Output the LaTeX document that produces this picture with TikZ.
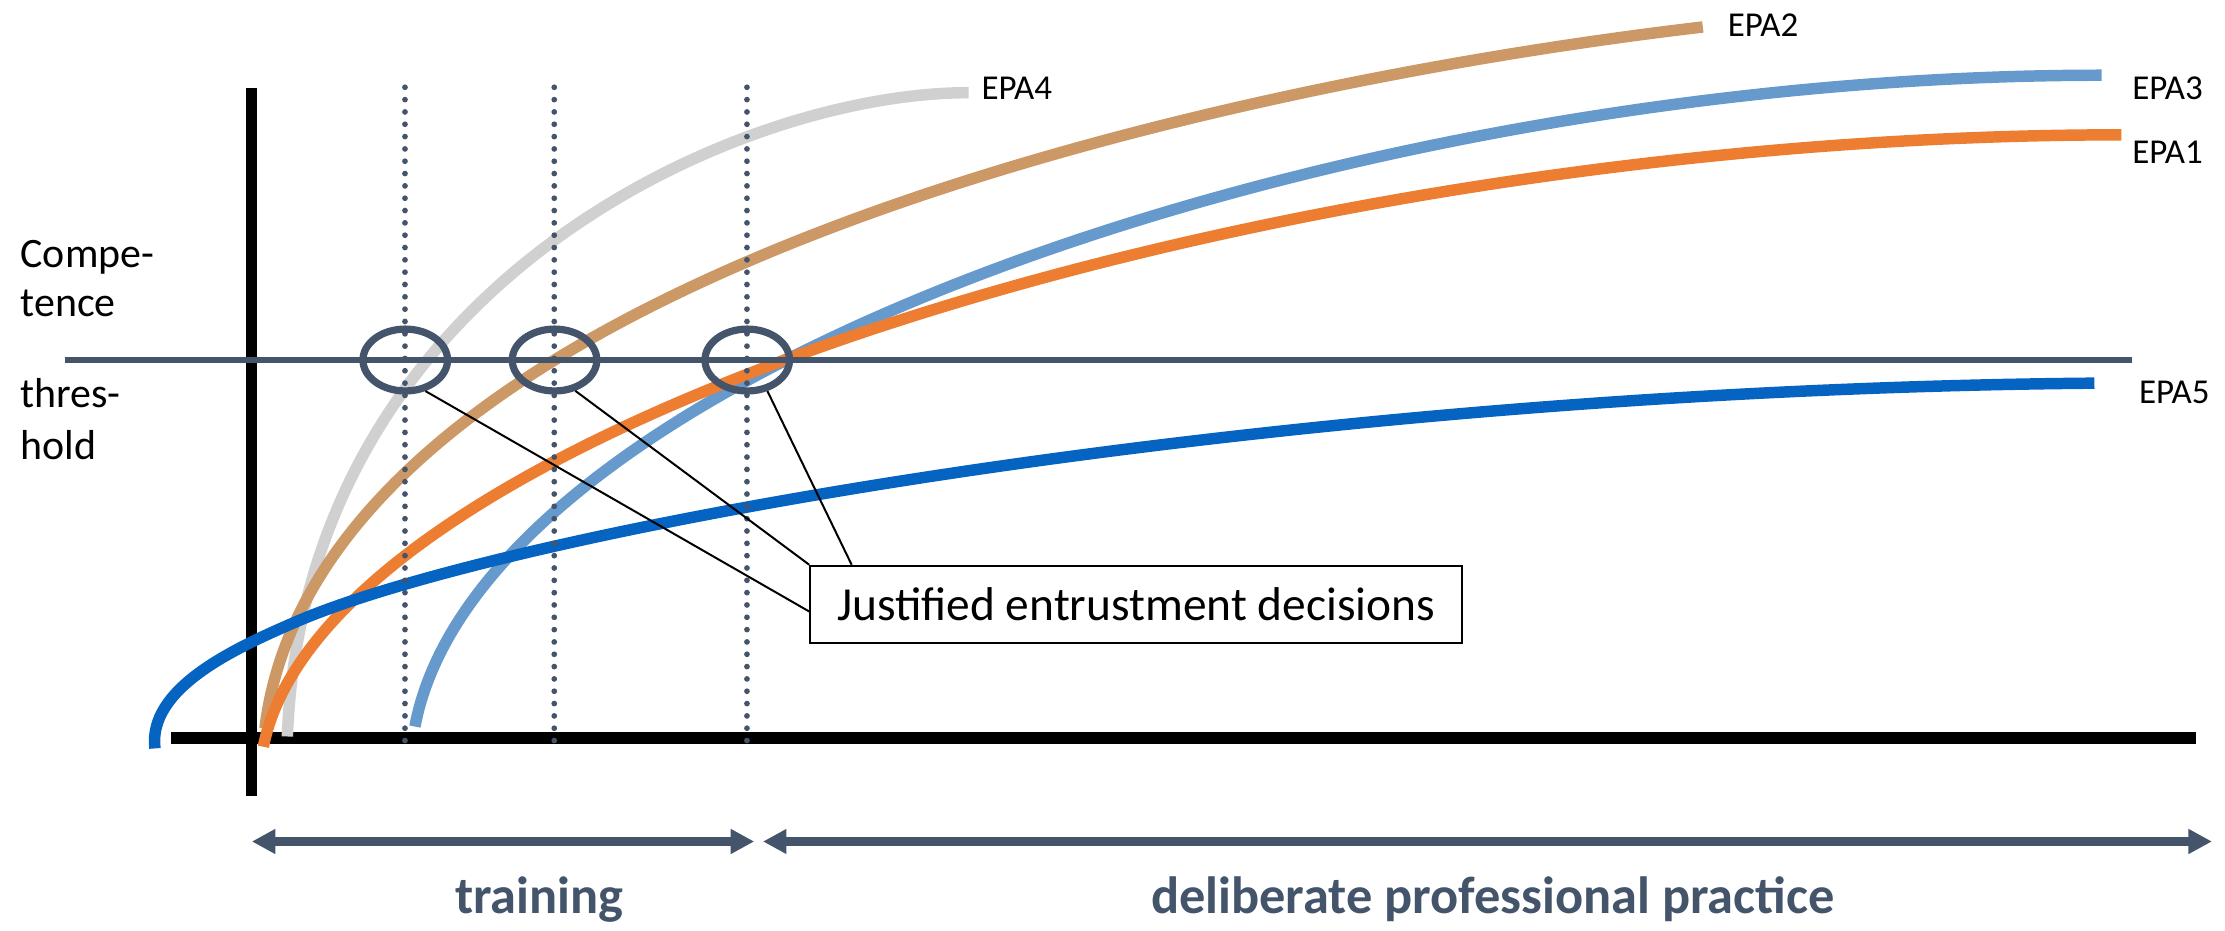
\documentclass[tikz,border=0pt]{standalone}
\usepackage{fontspec}
\setmainfont{Carlito}
\usetikzlibrary{arrows.meta,shapes.geometric}
\definecolor{slate}{HTML}{44546A}
\definecolor{epagray}{HTML}{D0D0D0}
\definecolor{epatan}{HTML}{CC9966}
\definecolor{epalblue}{HTML}{6699CC}
\definecolor{epaorange}{HTML}{ED7D31}
\definecolor{epadblue}{HTML}{0563C1}
\begin{document}
\begin{tikzpicture}[x=0.01cm,y=-0.01cm,
  curve/.style={line width=2.3pt, line cap=butt},
  axis/.style={line width=2.35pt, black},
  guide/.style={slate, line width=1.15pt, line cap=round, dash pattern=on 0pt off 2.47pt},
  ring/.style={draw=slate, line width=1.45pt, ellipse, minimum width=16.95pt, minimum height=12.4pt, inner sep=0pt},
  callout/.style={black, line width=0.4pt},
  epalabel/.style={anchor=west, inner sep=0pt, font=\fontsize{7pt}{8pt}\selectfont},
  sidelabel/.style={anchor=base west, inner sep=0pt, font=\fontsize{8.4pt}{10pt}\selectfont},
  phase/.style={anchor=base, inner sep=0pt, text=slate, font=\fontsize{10.5pt}{12pt}\selectfont\bfseries},
  span/.style={slate, line width=1.65pt, {Triangle[length=4.7pt,width=4.7pt]}-{Triangle[length=4.7pt,width=4.7pt]}}
]
\useasboundingbox (0,0) rectangle (1568,655.4);

% axes
\coordinate (yaxt) at (177.3,61.7);
\coordinate (yaxb) at (177.3,561);
\coordinate (xaxl) at (120.3,520.3);
\coordinate (xaxr) at (1547.6,520.3);
\draw[axis] (yaxt) -- (yaxb);
\draw[axis] (xaxl) -- (xaxr);

% curves
\coordinate (a4) at (202.5,519);   \coordinate (b4) at (682.6,65.3);
\coordinate (a2) at (186.7,513.3); \coordinate (b2) at (1200,19);
\coordinate (a3) at (292.4,512);   \coordinate (b3) at (1481,53);
\coordinate (a1) at (185.6,526.2); \coordinate (b1) at (1495,95);
\coordinate (a5) at (109.2,527.4); \coordinate (m5) at (209,438); \coordinate (b5) at (1476,270);
\draw[curve, epagray]   (a4) .. controls (215,200) and (520,65.3) .. (b4);
\draw[curve, epatan]    (a2) .. controls (225,200) and (850,60) .. (b2);
\draw[curve, epalblue]  (a3) .. controls (340,260) and (950,53) .. (b3);
\draw[curve, epaorange] (a1) .. controls (230,300) and (900,95) .. (b1);
\draw[curve, epadblue]  (a5) .. controls (104,485) and (165,457) .. (m5)
                             .. controls (359,373.5) and (900,275) .. (b5);

% threshold
\coordinate (thl) at (45.5,253.7);
\coordinate (thr) at (1502.5,253.7);
\draw[slate, line width=1.15pt] (thl) -- (thr);

% dotted guides
\coordinate (g1t) at (285.4,61.5); \coordinate (g1b) at (285.4,528);
\coordinate (g2t) at (390.6,61.5); \coordinate (g2b) at (390.6,528);
\coordinate (g3t) at (526.4,61.5); \coordinate (g3b) at (526.4,528);
\draw[guide] (g1t) -- (g1b);
\draw[guide] (g2t) -- (g2b);
\draw[guide] (g3t) -- (g3b);

% rings
\node[ring] (e1) at (285.6,253.7) {};
\node[ring] (e2) at (390.8,253.7) {};
\node[ring] (e3) at (526.6,253.7) {};

% callout box
\node[draw=black, line width=0.45pt, minimum width=130.6pt, minimum height=15.5pt, inner sep=0pt,
      font=\fontsize{9.5pt}{11pt}\selectfont] (box) at (800.7,426) {Justified entrustment decisions};
\draw[callout] (e1.-57) -- ([yshift=-1.4pt]box.west);
\draw[callout] (e2.-56) -- (box.north west);
\draw[callout] (e3.-57) -- ([xshift=8.5pt]box.north west);

% labels
\node[epalabel] (l4) at (691,62) {EPA4};
\node[epalabel] (l2) at (1217,17.6) {EPA2};
\node[epalabel] (l3) at (1502,62) {EPA3};
\node[epalabel] (l1) at (1502,107.6) {EPA1};
\node[epalabel] (l5) at (1506.8,276.7) {EPA5};

\node[sidelabel] (c1) at (13.8,188.3) {Compe-};
\node[sidelabel] (c2) at (13.8,223) {tence};
\node[sidelabel] (t1) at (13.8,287.5) {thres-};
\node[sidelabel] (t2) at (13.8,323.75) {hold};

% phase arrows
\coordinate (trl) at (177.5,593);
\coordinate (trr) at (531.5,593);
\coordinate (dpl) at (537.7,593);
\coordinate (dpr) at (1558.8,593);
\draw[span] (trl) -- (trr);
\draw[span] (dpl) -- (dpr);
\node[phase] (ptr) at (380,643.7) {training};
\node[phase] (pdp) at (1052,643.7) {deliberate professional practice};
\end{tikzpicture}
\end{document}
